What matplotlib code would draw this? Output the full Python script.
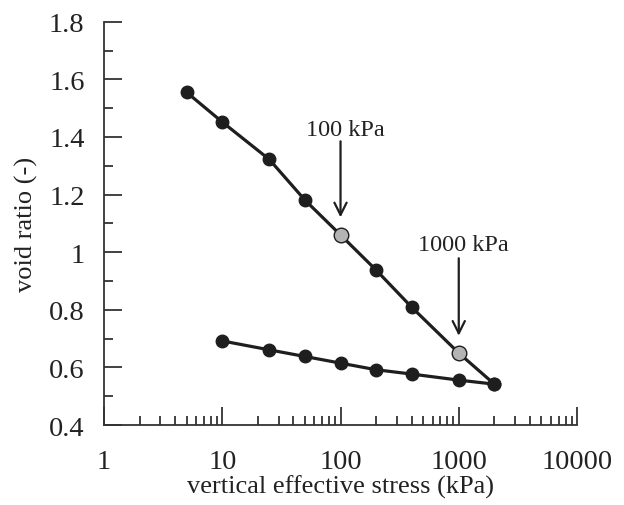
import matplotlib
matplotlib.use("Agg")
import matplotlib.pyplot as plt
from matplotlib.ticker import LogLocator, MultipleLocator, FuncFormatter

# loading branch
load_stress = [5, 10, 25, 50, 100, 200, 400, 1000, 2000]
load_void = [1.555, 1.452, 1.322, 1.181, 1.06, 0.938, 0.809, 0.65, 0.542]

# unloading branch
unload_stress = [2000, 1000, 400, 200, 100, 50, 25, 10]
unload_void = [0.542, 0.556, 0.577, 0.592, 0.615, 0.638, 0.661, 0.692]

# highlighted points
mark_stress = [100, 1000]
mark_void = [1.06, 0.65]
mark_labels = ["100 kPa", "1000 kPa"]
arrow_top = [1.385, 0.979]
arrow_tip = [1.121, 0.71]
label_y = [1.426, 1.027]

plt.rcParams["font.family"] = ["Liberation Serif", "DejaVu Serif"]

fig = plt.figure(figsize=(6.24, 5.06), dpi=100)
ax = fig.add_axes([0.1667, 0.158, 0.758, 0.797])

line_col = "#1e1e1e"
ax.plot(load_stress, load_void, color=line_col, lw=2.3, marker="o", ms=9,
        mfc=line_col, mec=line_col, zorder=3)
ax.plot(unload_stress, unload_void, color=line_col, lw=2.3, marker="o", ms=9,
        mfc=line_col, mec=line_col, zorder=3)
ax.plot(mark_stress, mark_void, ls="none", marker="o", ms=10.5,
        mfc="#b4b4b4", mec=line_col, mew=1.0, zorder=4)

for xs, top, tip, ly, txt in zip(mark_stress, arrow_top, arrow_tip, label_y, mark_labels):
    ax.annotate("", xy=(xs, tip), xytext=(xs, top),
                arrowprops=dict(arrowstyle="->", lw=1.6, color=line_col,
                                mutation_scale=22, shrinkA=0, shrinkB=0))
    ax.text(xs * 1.1, ly, txt, ha="center", va="center", fontsize=17.5, color="#222222")

ax.set_xscale("log")
ax.set_xlim(1, 10000)
ax.set_ylim(0.4, 1.8)

ax.xaxis.set_major_locator(LogLocator(base=10, numticks=10))
ax.xaxis.set_minor_locator(LogLocator(base=10, subs=range(2, 10), numticks=20))
ax.xaxis.set_major_formatter(FuncFormatter(lambda v, p: "%d" % round(v)))
ax.yaxis.set_major_locator(MultipleLocator(0.2))
ax.yaxis.set_minor_locator(MultipleLocator(0.1))
ax.yaxis.set_major_formatter(FuncFormatter(lambda v, p: ("%.1f" % v).rstrip("0").rstrip(".")))

for s in ["top", "right"]:
    ax.spines[s].set_visible(False)
for s in ["left", "bottom"]:
    ax.spines[s].set_linewidth(1.3)
    ax.spines[s].set_color("#333333")

ax.tick_params(which="major", direction="in", length=13, width=1.3, color="#333333",
               labelsize=20.5, labelcolor="#222222")
ax.tick_params(axis="y", which="major", pad=14)
ax.tick_params(axis="x", which="major", pad=17)
ax.tick_params(which="minor", direction="in", length=6.5, width=1.3, color="#333333")

ax.set_xlabel("vertical effective stress (kPa)", fontsize=19, color="#222222", labelpad=1)
ax.set_ylabel("void ratio (-)", fontsize=19, color="#222222", labelpad=8)

fig.savefig("out.png", dpi=100)
